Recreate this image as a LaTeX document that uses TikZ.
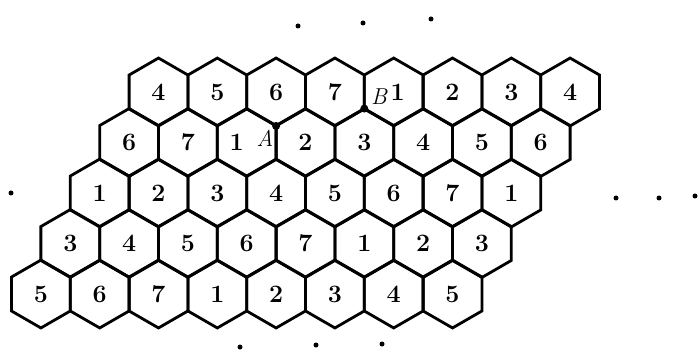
\documentclass[tikz,border=0pt]{standalone}
\usepackage{amsmath}
\usepackage{fontspec}
\usepackage{tikz}
\usetikzlibrary{shapes.geometric}

\begin{document}
\begin{tikzpicture}[
    x=1pt, y=-1pt,
    cell/.style={regular polygon, regular polygon sides=6, shape border rotate=30,
        draw, line width=2.8pt, minimum size=67.9pt, inner sep=0pt, outer sep=0pt,
        font=\fontsize{25}{25}\selectfont\bfseries},
    tag/.style={inner sep=0pt, font=\fontsize{23}{23}\selectfont\itshape},
    spot/.style={circle, fill, inner sep=0pt, minimum size=5pt},
    vertex/.style={circle, fill, inner sep=0pt, minimum size=8pt} % Eckpunkte A und B
]
\useasboundingbox (0,0) rectangle (700,355);

% Zeile 1 bis 5
\foreach \v [count=\i] in {4,5,6,7,{\hspace*{8pt}1},2,3,4}
    \node[cell] (a\i) at ({158.5+58.8*(\i-1)}, 92) {\v};
\foreach \v [count=\i] in {6,7,{1\hspace*{20pt}},2,3,4,5,6}
    \node[cell] (b\i) at ({129.1+58.8*(\i-1)}, 142.5) {\v};
\foreach \v [count=\i] in {1,2,3,4,5,6,7,1}
    \node[cell] (c\i) at ({99.7+58.8*(\i-1)}, 193) {\v};
\foreach \v [count=\i] in {3,4,5,6,7,1,2,3}
    \node[cell] (d\i) at ({70.3+58.8*(\i-1)}, 243.5) {\v};
\foreach \v [count=\i] in {5,6,7,1,2,3,4,5}
    \node[cell] (e\i) at ({40.9+58.8*(\i-1)}, 294) {\v};

\node[vertex] (pA) at (a3.south) {};
\node[vertex] (pB) at (b5.north) {};
\node[tag] (lA) at (265,138) {A};
\node[tag] (lB) at (379,97) {B};

% Punkte
\node[spot] (t1) at (298,26) {};
\node[spot] (t2) at (363,23) {};
\node[spot] (t3) at (431,19) {};
\node[spot] (r1) at (616,198) {};
\node[spot] (r2) at (659,198) {};
\node[spot] (r3) at (695,196) {};
\node[spot] (u1) at (240,347) {};
\node[spot] (u2) at (316,345) {};
\node[spot] (u3) at (382,344) {};
\node[spot] (l1) at (11,193) {};

\end{tikzpicture}
\end{document}
